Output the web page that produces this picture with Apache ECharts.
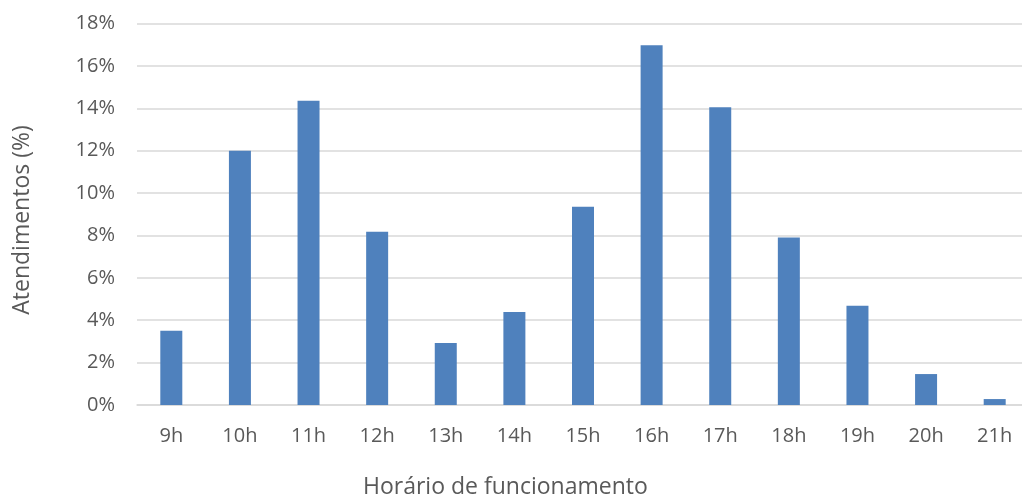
<!DOCTYPE html>
<html>
<head>
<meta charset="utf-8">
<script src="https://cdn.jsdelivr.net/npm/echarts@6/dist/echarts.min.js"></script>
<style>
  html, body { margin: 0; padding: 0; background: #fff; overflow: hidden; }
  #chart { width: 1030px; height: 498px; }
</style>
</head>
<body>
<div id="chart"></div>
<script>
// Share of service calls by opening hour
const hours = ['9h', '10h', '11h', '12h', '13h', '14h', '15h', '16h', '17h', '18h', '19h', '20h', '21h'];
const shares = [3.5, 12.0, 14.35, 8.17, 2.93, 4.39, 9.35, 16.97, 14.05, 7.9, 4.68, 1.46, 0.28];
const yTicks = [0, 2, 4, 6, 8, 10, 12, 14, 16, 18];

const fontFamily = '"Open Sans", "Liberation Sans", sans-serif';
const chart = echarts.init(document.getElementById('chart'), null, { renderer: 'canvas' });

chart.setOption({
  animation: false,
  grid: { left: 137, width: 892, top: 23.5, height: 381.5, containLabel: false },
  xAxis: {
    type: 'category',
    data: hours,
    axisLine: { lineStyle: { color: '#d9d9d9', width: 1.5 } },
    axisTick: { show: false },
    axisLabel: { color: '#595959', fontFamily, fontSize: 20, margin: 21 }
  },
  yAxis: {
    type: 'value',
    min: yTicks[0],
    max: yTicks[yTicks.length - 1],
    interval: 2,
    axisLine: { show: false },
    axisTick: { show: false },
    splitLine: { lineStyle: { color: '#d9d9d9', width: 1.5 } },
    axisLabel: { color: '#595959', fontFamily, fontSize: 20, margin: 22, formatter: v => v + '%' }
  },
  graphic: [
    {
      type: 'text',
      x: 363, y: 487,
      style: {
        text: 'Horário de funcionamento', fill: '#595959', font: '23px ' + fontFamily,
        align: 'left', verticalAlign: 'middle'
      }
    },
    {
      type: 'text',
      x: 22, y: 220,
      rotation: Math.PI / 2,
      style: {
        text: 'Atendimentos (%)', fill: '#595959', font: '23px ' + fontFamily,
        align: 'center', verticalAlign: 'middle'
      }
    }
  ],
  series: [{
    type: 'bar',
    data: shares,
    barWidth: 22,
    itemStyle: { color: '#4f81bd' }
  }]
});
</script>
</body>
</html>
